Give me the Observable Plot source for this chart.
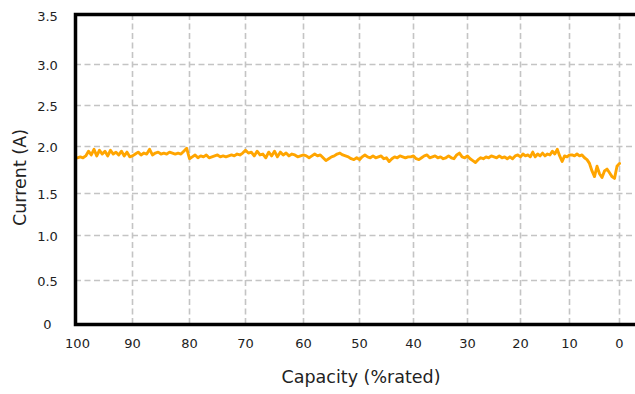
<!DOCTYPE html>
<html>
<head>
<meta charset="utf-8">
<script src="https://cdn.jsdelivr.net/npm/d3@7"></script>
<script src="https://cdn.jsdelivr.net/npm/@observablehq/plot@0.6"></script>
<style>
  html, body { margin: 0; padding: 0; background: #fff; }
  #chart { width: 635px; height: 394px; overflow: hidden; }
</style>
</head>
<body>
<div id="chart"></div>
<script>
// Capacity (%rated), sampled from 100 down to 0
const capacity = [
  100, 99.5, 99, 98.5, 98, 97.5, 97, 96.5, 96, 95.5,
  95, 94.5, 94, 93.5, 93, 92.5, 92, 91.5, 91, 90.5,
  90, 89.5, 89, 88.5, 88, 87.5, 87, 86.5, 86, 85.5,
  85, 84.5, 84, 83.5, 83, 82.5, 82, 81.5, 81, 80.5,
  80, 79.5, 79, 78.5, 78, 77.5, 77, 76.5, 76, 75.5,
  75, 74.5, 74, 73.5, 73, 72.5, 72, 71.5, 71, 70.5,
  70, 69.5, 69, 68.5, 68, 67.5, 67, 66.5, 66, 65.5,
  65, 64.5, 64, 63.5, 63, 62.5, 62, 61.5, 61, 60.5,
  60, 59.5, 59, 58.5, 58, 57.5, 57, 56.5, 56, 55.5,
  55, 54.5, 54, 53.5, 53, 52.5, 52, 51.5, 51, 50.5,
  50, 49.5, 49, 48.5, 48, 47.5, 47, 46.5, 46, 45.5,
  45, 44.5, 44, 43.5, 43, 42.5, 42, 41.5, 41, 40.5,
  40, 39.5, 39, 38.5, 38, 37.5, 37, 36.5, 36, 35.5,
  35, 34.5, 34, 33.5, 33, 32.5, 32, 31.5, 31, 30.5,
  30, 29.5, 29, 28.5, 28, 27.5, 27, 26.5, 26, 25.5,
  25, 24.5, 24, 23.5, 23, 22.5, 22, 21.5, 21, 20.5,
  20, 19.5, 19, 18.5, 18, 17.5, 17, 16.5, 16, 15.5,
  15, 14.5, 14, 13.5, 13, 12.5, 12, 11.5, 11, 10.5,
  10, 9.5, 9, 8.5, 8, 7.5, 7, 6.5, 6, 5.5,
  5, 4.5, 4, 3.5, 3, 2.5, 2, 1.5, 1, 0.5,
  0
];
// Current (A)
const current = [
  1.88, 1.89, 1.88, 1.90, 1.95, 1.91, 1.97, 1.90, 1.96, 1.92,
  1.95, 1.90, 1.96, 1.92, 1.94, 1.91, 1.95, 1.90, 1.94, 1.89,
  1.90, 1.92, 1.94, 1.91, 1.93, 1.92, 1.97, 1.91, 1.93, 1.94,
  1.92, 1.93, 1.92, 1.94, 1.93, 1.92, 1.93, 1.92, 1.95, 1.98,
  1.87, 1.89, 1.91, 1.88, 1.90, 1.89, 1.91, 1.88, 1.89, 1.90,
  1.91, 1.89, 1.90, 1.89, 1.90, 1.91, 1.90, 1.92, 1.91, 1.93,
  1.96, 1.93, 1.94, 1.90, 1.95, 1.91, 1.92, 1.88, 1.94, 1.90,
  1.95, 1.89, 1.94, 1.91, 1.93, 1.90, 1.92, 1.91, 1.89, 1.90,
  1.91, 1.90, 1.88, 1.90, 1.92, 1.90, 1.91, 1.88, 1.85, 1.87,
  1.89, 1.90, 1.92, 1.93, 1.91, 1.90, 1.89, 1.87, 1.86, 1.88,
  1.86, 1.89, 1.91, 1.89, 1.88, 1.90, 1.88, 1.89, 1.90, 1.87,
  1.88, 1.84, 1.87, 1.89, 1.88, 1.90, 1.89, 1.88, 1.89, 1.89,
  1.90, 1.87, 1.86, 1.88, 1.90, 1.91, 1.88, 1.89, 1.90, 1.88,
  1.89, 1.87, 1.88, 1.90, 1.88, 1.87, 1.91, 1.93, 1.89, 1.88,
  1.90, 1.87, 1.85, 1.83, 1.86, 1.88, 1.87, 1.89, 1.88, 1.90,
  1.89, 1.88, 1.90, 1.88, 1.89, 1.87, 1.89, 1.87, 1.90, 1.91,
  1.89, 1.92, 1.90, 1.91, 1.89, 1.94, 1.89, 1.92, 1.90, 1.93,
  1.90, 1.92, 1.91, 1.95, 1.92, 1.97, 1.90, 1.84, 1.90, 1.89,
  1.91, 1.91, 1.90, 1.92, 1.90, 1.91, 1.88, 1.86, 1.82, 1.74,
  1.68, 1.79, 1.71, 1.67, 1.74, 1.76, 1.72, 1.68, 1.66, 1.79,
  1.82
];
const xTicks = [100, 90, 80, 70, 60, 50, 40, 30, 20, 10, 0];
const yTicks = [0, 0.5, 1.0, 1.5, 2.0, 2.5, 3.0, 3.5];
const yTickLabels = ["0", "0.5", "1.0", "1.5", "2.0", "2.5", "3.0", "3.5"];
const xTitle = "Capacity (%rated)";
const yTitle = "Current (A)";

const data = capacity.map((c, i) => ({capacity: c, current: current[i]}));
const font = "DejaVu Sans, Verdana, sans-serif";
const gridStyle = {stroke: "#c4c4c4", strokeWidth: 1.6, strokeDasharray: "6,3.5"};

const chart = Plot.plot({
  width: 635,
  height: 394,
  marginLeft: 75,
  marginTop: 14,
  marginBottom: 70,
  marginRight: -5,
  style: {fontFamily: font, background: "#fff", overflow: "hidden"},
  x: {type: "linear", domain: xTicks, range: [77, 132, 189, 245, 303, 359, 413, 467, 520, 569, 619], axis: null},
  y: {type: "linear", domain: yTicks, range: [323, 280, 235, 193, 146, 105, 64, 15], axis: null},
  marks: [
    Plot.ruleX(xTicks.slice(1), {x: d => d, ...gridStyle}),
    Plot.ruleY(yTicks.slice(1, -1), {y: d => d, ...gridStyle}),
    Plot.line(data, {x: "capacity", y: "current", stroke: "#FFA500", strokeWidth: 2.9, strokeLinejoin: "round", curve: "linear"}),
    Plot.frame({stroke: "#000", strokeWidth: 3.5}),
    Plot.text(xTicks, {x: d => d, text: d => String(d), frameAnchor: "bottom", dy: 23, fontSize: 13, fill: "#222"}),
    Plot.text(yTicks, {y: d => d, text: (d, i) => yTickLabels[i], frameAnchor: "left", dx: -28, dy: 1, textAnchor: "middle", fontSize: 13, fill: "#222"}),
    Plot.text([xTitle], {text: d => d, frameAnchor: "bottom", dy: 58, dx: 3, fontSize: 17.5, fill: "#222"}),
    Plot.text([yTitle], {text: d => d, frameAnchor: "left", textAnchor: "middle", dx: -55, dy: 8, rotate: -90, fontSize: 17.5, fill: "#222"})
  ]
});
document.getElementById("chart").appendChild(chart);
</script>
</body>
</html>
